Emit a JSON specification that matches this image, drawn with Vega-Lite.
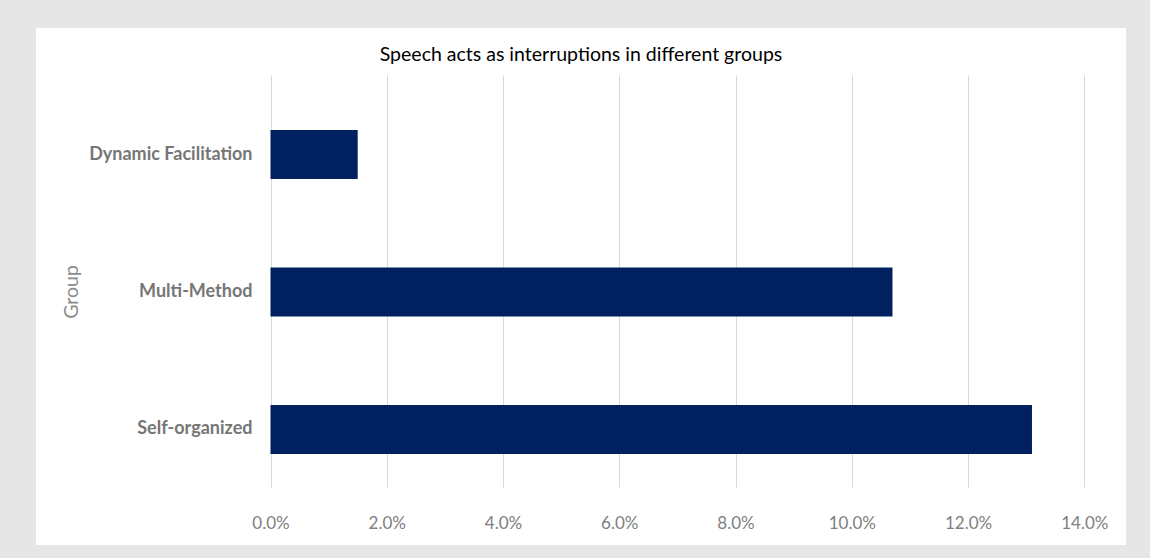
{
  "$schema": "https://vega.github.io/schema/vega-lite/v6.json",
  "width": 1090,
  "height": 517,
  "autosize": {"type": "none"},
  "padding": {"left": 36, "top": 28, "right": 24, "bottom": 13},
  "background": "#e7e6e6",
  "view": {"fill": "#ffffff", "stroke": null},
  "title": {
    "text": "Speech acts as interruptions in different groups",
    "anchor": "middle",
    "frame": "group",
    "orient": "top",
    "offset": -46,
    "baseline": "middle",
    "font": "Lato",
    "fontSize": 19.5,
    "fontWeight": "normal",
    "color": "#000000"
  },
  "data": {
    "values": [
      {"Group": "Dynamic Facilitation", "share": 0.015},
      {"Group": "Multi-Method", "share": 0.107},
      {"Group": "Self-organized", "share": 0.131}
    ]
  },
  "mark": {"type": "bar", "color": "#002060"},
  "encoding": {
    "y": {
      "field": "Group",
      "type": "nominal",
      "sort": ["Dynamic Facilitation", "Multi-Method", "Self-organized"],
      "scale": {"range": [58, 470], "paddingInner": 0.643, "paddingOuter": 0.32},
      "axis": {
        "orient": "left",
        "offset": -234.5,
        "domain": false,
        "ticks": false,
        "tickSize": 0,
        "grid": false,
        "labelPadding": 18.5,
        "labelFont": "Lato",
        "labelFontSize": 18,
        "labelFontWeight": "bold",
        "labelColor": "#767676",
        "labelLimit": 400,
        "title": "Group",
        "titleFont": "Lato",
        "titleFontSize": 19.5,
        "titleFontWeight": "normal",
        "titleColor": "#8c8c8c",
        "titleAngle": -90,
        "titleAlign": "center",
        "titleBaseline": "middle",
        "titleX": -199,
        "titleY": 263.5
      }
    },
    "x": {
      "field": "share",
      "type": "quantitative",
      "scale": {"domain": [0, 0.14], "range": [234.5, 1048.3], "nice": false, "zero": true},
      "axis": {
        "orient": "bottom",
        "offset": -47,
        "values": [0, 0.02, 0.04, 0.06, 0.08, 0.1, 0.12, 0.14],
        "format": ".1%",
        "domain": false,
        "ticks": false,
        "tickSize": 0,
        "grid": true,
        "gridColor": "#d9d9d9",
        "gridWidth": 1,
        "labelPadding": 25,
        "labelBaseline": "middle",
        "labelFont": "Lato",
        "labelFontSize": 17,
        "labelColor": "#808080",
        "labelFlush": false,
        "title": null
      }
    }
  }
}
